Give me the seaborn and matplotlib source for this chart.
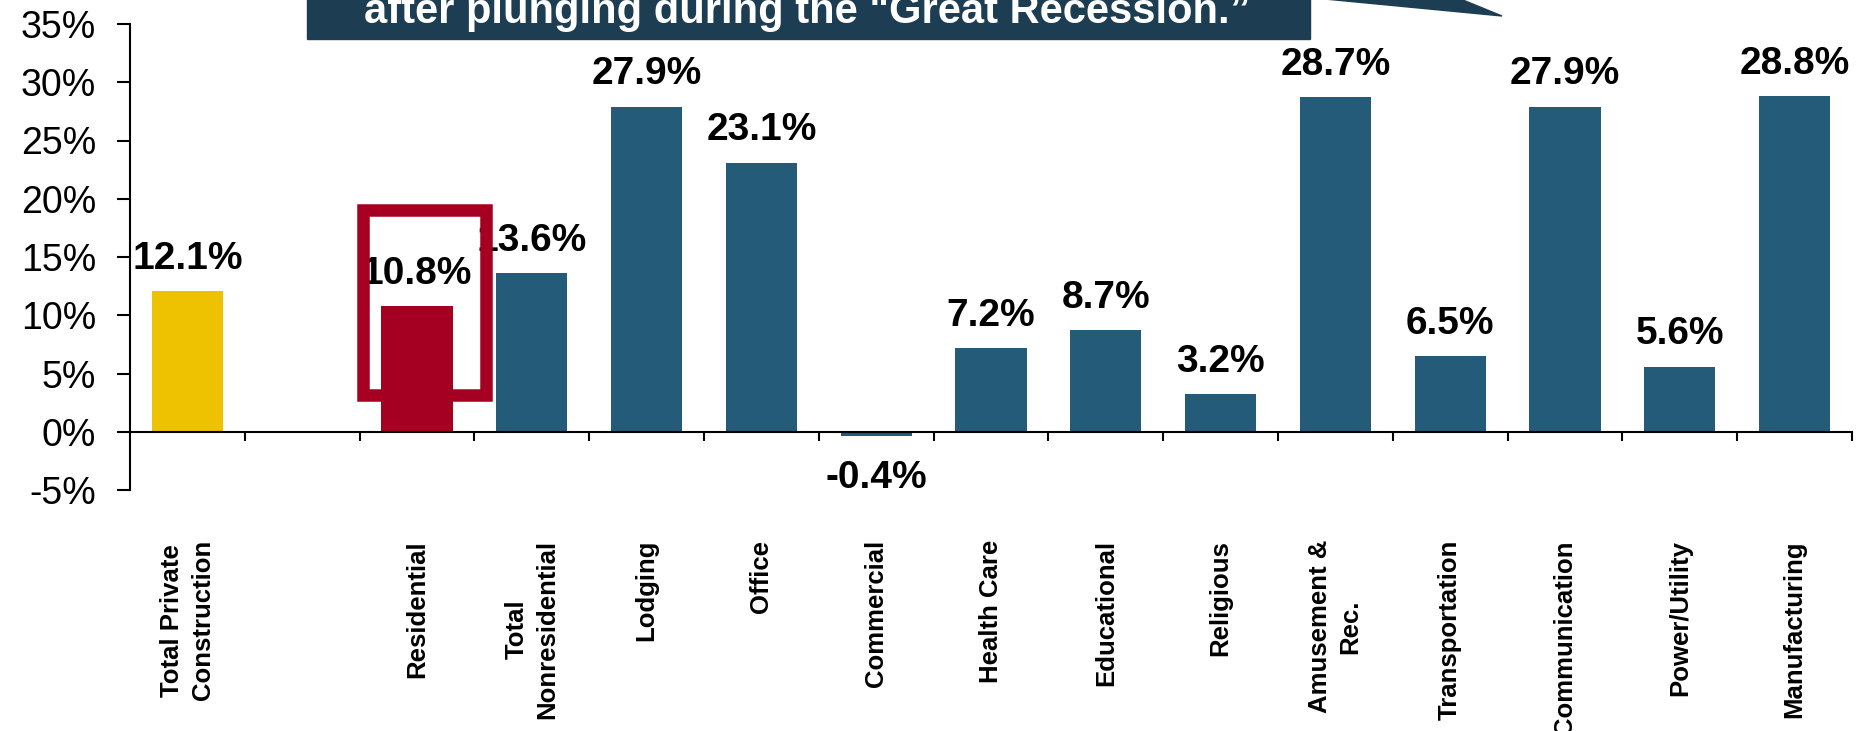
"""Private construction spending growth by segment"""
import numpy as np
import pandas as pd
import matplotlib.pyplot as plt
from matplotlib.patches import Rectangle, Polygon
from matplotlib.ticker import FuncFormatter
import seaborn as sns

sns.set_style("ticks")
plt.rcParams['font.family'] = ['Liberation Sans', 'DejaVu Sans']
plt.rcParams['text.color'] = 'black'
plt.rcParams['xtick.color'] = 'black'
plt.rcParams['ytick.color'] = 'black'

# Data
categories = ["Total Private\nConstruction", "", "Residential", "Total\nNonresidential",
              "Lodging", "Office", "Commercial", "Health Care", "Educational", "Religious",
              "Amusement &\nRec.", "Transportation", "Communication", "Power/Utility",
              "Manufacturing"]
values = [12.1, np.nan, 10.8, 13.6, 27.9, 23.1, -0.4, 7.2, 8.7, 3.2, 28.7, 6.5, 27.9, 5.6, 28.8]
gold, red, blue = "#EEC200", "#A50021", "#245B79"
bar_colors = [gold, gold, red] + [blue] * 12
callout = 'after plunging during the "Great Recession.\u201d'

df = pd.DataFrame({"segment": categories, "growth": values}).dropna()
palette = dict(zip(categories, bar_colors))

fig = plt.figure(figsize=(18.61, 7.31), dpi=100)
ax = fig.add_axes([130 / 1861, 1 - 490 / 731, (1852 - 130) / 1861, (490 - 24) / 731])

sns.barplot(data=df, x="segment", y="growth", hue="segment", order=categories,
            palette=palette, saturation=1, width=0.62, linewidth=0, legend=False, ax=ax)

ax.set_xlim(-0.5, len(categories) - 0.5)
ax.set_ylim(-5, 35)
ax.set_yticks(np.arange(-5, 36, 5))
ax.yaxis.set_major_formatter(FuncFormatter(lambda v, _: f"{v:.0f}%"))
ax.set_xlabel("")
ax.set_ylabel("")

# axes styling
sns.despine(ax=ax)
ax.spines['bottom'].set_position(('data', 0))
for s in ['left', 'bottom']:
    ax.spines[s].set_linewidth(1.5)
    ax.spines[s].set_color('black')
ax.tick_params(axis='y', length=9.5, width=1.5, pad=15, labelsize=27)
ax.tick_params(axis='x', which='major', length=0, pad=78, labelsize=18.5)
ax.set_xticks(np.arange(0.5, len(categories), 1), minor=True)
ax.tick_params(axis='x', which='minor', length=6.5, width=1.5, direction='out')
for lab in ax.get_xticklabels():
    lab.set_rotation(90)
    lab.set_fontweight('bold')
    lab.set_multialignment('center')
    lab.set_linespacing(1.35)
    lab.set_va('top')
    lab.set_ha('center')

# value labels
for i, v in enumerate(values):
    if np.isnan(v):
        continue
    off = 16 if v >= 0 else -37
    ax.annotate(f"{v:.1f}%", (i, v), xytext=(0, off), textcoords='offset points',
                ha='center', va='baseline', fontsize=28, fontweight='bold', zorder=4)

# highlight box around Residential
ax.add_patch(Rectangle((1.53, 3.15), 1.07, 15.85, fill=False, edgecolor=red,
                       linewidth=9, zorder=5, clip_on=False))

# callout box at top (cut off by the figure edge)
W, H = 1861, 731
box_color = "#1C3D52"
fig.patches.append(Rectangle((307 / W, 1 - 39 / H), (1310 - 307) / W, 0.2,
                             transform=fig.transFigure, color=box_color, zorder=1))
fig.patches.append(Polygon([(1127 / W, 1 + 20 / H), (1414 / W, 1 + 20 / H), (1502 / W, 1 - 16 / H)],
                           closed=True, transform=fig.transFigure, color=box_color, zorder=1))
fig.text(807 / W, 1 - 23 / H, callout, ha='center', va='baseline', color='white',
         fontsize=30, fontweight='bold', zorder=2)

plt.savefig('out.png', dpi=100)
